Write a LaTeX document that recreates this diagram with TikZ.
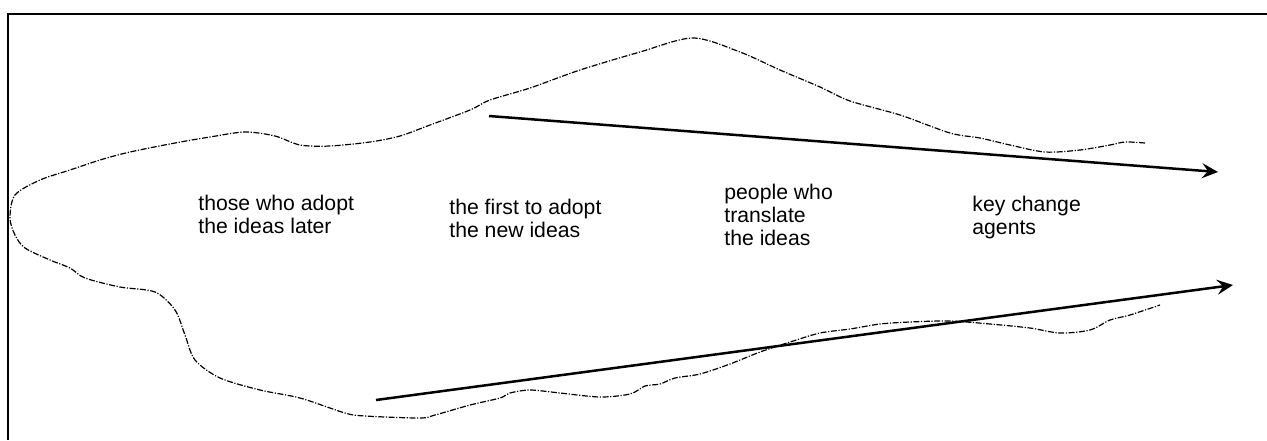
\documentclass[tikz,border=0pt]{standalone}
\usepackage{fontspec}
\setmainfont{Liberation Sans}
\usetikzlibrary{arrows.meta}
\begin{document}
\begin{tikzpicture}[x=0.5pt, y=-0.5pt,
    grouptext/.style={anchor=north west, inner sep=0pt, align=left,
      font=\fontsize{10.6}{11.5}\selectfont},
    outline/.style={line width=0.6pt, dash pattern=on 3pt off 0.8pt on 0.6pt off 0.8pt},
    flow/.style={line width=1.25pt, -{Stealth[length=8pt, width=7.5pt, inset=3pt]}}]
    \useasboundingbox (0,0) rectangle (1267,440);
    % Frame (top and left edges only)
    \draw[line width=1.25pt] (1267,14) -- (8,14) -- (8,440);
    % Outline of the group
    \draw[outline] plot[smooth, tension=0.5] coordinates {
      (1145,143) (1125,142) (1110,145) (1080,150) (1045,152) (1010,145)
      (980,138) (950,133) (900,115) (850,101) (820,87) (780,70) (740,52)
      (693,38) (640,52) (580,70) (530,88) (490,100) (470,110) (430,125)
      (400,136) (370,142) (330,146) (300,145) (275,136) (245,132) (210,137)
      (175,143) (130,152) (100,160) (70,170) (40,180) (15,195) (10,218)
      (15,235) (25,248) (50,260) (70,268) (85,278) (120,287) (155,292)
      (175,310) (185,335) (195,360) (220,378) (260,390) (300,398) (345,413)
      (365,416) (420,418) (435,415) (470,405) (500,398) (510,393) (530,390)
      (560,393) (600,397) (630,394) (645,386) (660,384) (675,378) (700,374)
      (730,364) (760,352) (790,342) (820,333) (850,329) (880,324) (910,322)
      (950,321) (990,324) (1030,328) (1060,333) (1090,330) (1110,320)
      (1130,315) (1160,305)};
    % Groups
    \node[grouptext] (later) at (198,195) {those who adopt\\the ideas later};
    \node[grouptext] (first) at (449,199) {the first to adopt\\the new ideas};
    \node[grouptext] (translate) at (724,184) {people who\\translate\\the ideas};
    \node[grouptext] (agents) at (972,196) {key change\\agents};
    % Arrows
    \coordinate (topstart) at (489,116);
    \coordinate (topend) at (1218,172);
    \coordinate (botstart) at (376,400);
    \coordinate (botend) at (1233,285);
    \draw[flow] (topstart) -- (topend);
    \draw[flow] (botstart) -- (botend);
\end{tikzpicture}
\end{document}
